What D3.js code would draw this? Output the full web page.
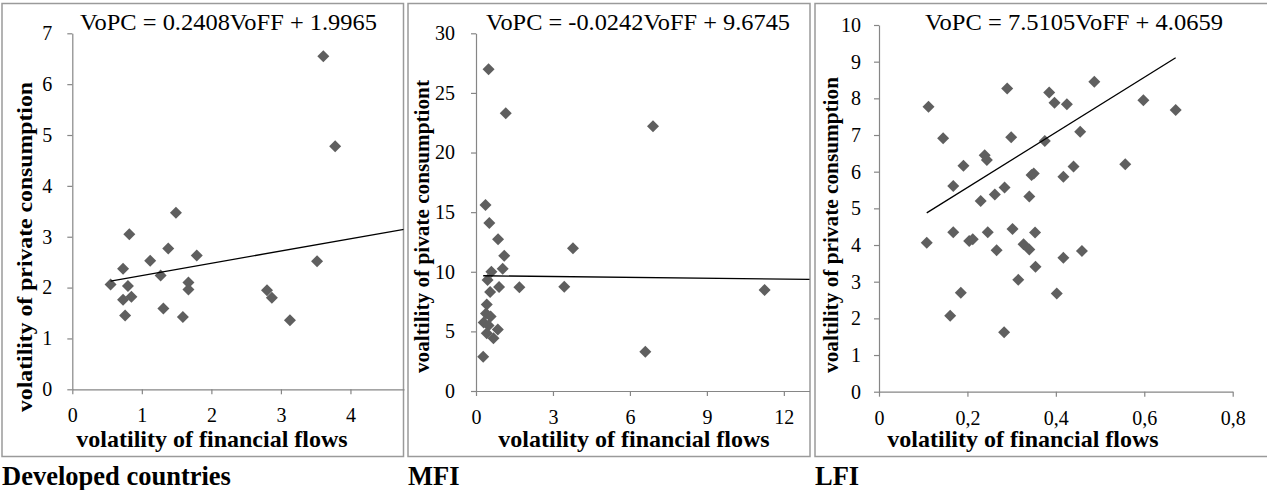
<!DOCTYPE html>
<html>
<head>
<meta charset="utf-8">
<script src="https://cdn.jsdelivr.net/npm/d3@7"></script>
</head>
<body style="margin:0">
<svg id="chart" width="1267" height="490"></svg>
<script>
// Volatility of financial flows (x) vs volatility of private consumption (y)

// Developed countries
const devX = [3.61, 3.78, 1.49, 0.82, 1.38, 1.79, 1.12, 3.52, 0.73, 1.27, 0.55, 0.80, 1.67, 1.67, 2.80, 2.87, 0.73, 0.85, 1.31, 0.76, 1.59, 3.13];
const devY = [6.55, 4.78, 3.47, 3.05, 2.77, 2.63, 2.53, 2.52, 2.37, 2.24, 2.06, 2.03, 2.10, 1.96, 1.95, 1.80, 1.76, 1.82, 1.59, 1.45, 1.42, 1.36];

// MFI
const mfiX = [0.49, 1.16, 6.90, 0.37, 0.52, 0.86, 3.78, 1.10, 1.04, 0.60, 0.45, 0.90, 1.69, 3.44, 11.25, 0.55, 0.42, 0.39, 0.57, 0.30, 0.49, 0.85, 0.42, 0.68, 6.60, 0.28];
const mfiY = [26.98, 23.3, 22.2, 15.6, 14.1, 12.72, 11.97, 11.35, 10.25, 10.0, 9.3, 8.72, 8.70, 8.75, 8.47, 8.3, 7.25, 6.5, 6.25, 5.75, 5.5, 5.15, 4.84, 4.42, 3.30, 2.88];

// LFI
const lfiX = [0.112, 0.145, 0.191, 0.168, 0.108, 0.168, 0.161, 0.185, 0.204, 0.212, 0.230, 0.239, 0.244, 0.246, 0.262, 0.266, 0.284, 0.290, 0.283, 0.299, 0.302, 0.315, 0.327, 0.340, 0.340, 0.345, 0.353, 0.354, 0.375, 0.385, 0.397, 0.402, 0.417, 0.417, 0.425, 0.440, 0.455, 0.459, 0.487, 0.557, 0.598, 0.671, 0.350];
const lfiY = [7.77, 6.91, 6.16, 5.61, 4.06, 4.35, 2.07, 2.70, 4.11, 4.16, 5.20, 6.45, 6.32, 4.35, 5.38, 3.86, 5.57, 8.27, 1.62, 6.94, 4.44, 3.05, 4.02, 3.88, 5.32, 5.91, 4.34, 3.41, 6.84, 8.16, 7.88, 2.68, 5.86, 3.65, 7.84, 6.14, 7.09, 3.84, 8.45, 6.20, 7.95, 7.68, 5.95];

// Linear trendlines: VoPC = slope * VoFF + intercept
const slopes = [0.2408, -0.0242, 7.5105];
const intercepts = [1.9965, 9.6745, 4.0659];
const equations = [
  "VoPC = 0.2408VoFF + 1.9965",
  "VoPC = -0.0242VoFF + 9.6745",
  "VoPC = 7.5105VoFF + 4.0659"
];

// Axis ticks and labels
const xTicks = [[0, 1, 2, 3, 4], [0, 3, 6, 9, 12], [0, 0.2, 0.4, 0.6, 0.8]];
const yTicks = [[0, 1, 2, 3, 4, 5, 6, 7], [0, 5, 10, 15, 20, 25, 30], [0, 1, 2, 3, 4, 5, 6, 7, 8, 9, 10]];
const xDomains = [[0, 4.77], [0, 13], [0, 0.8]];
const yDomains = [[0, 7], [0, 30], [0, 10]];
const xTitles = ["volatility of financial flows", "volatility of financial flows", "volatility of financial flows"];
const yTitles = ["volatility of private consumption", "voaltility of pivate consumptiont", "voaltility of private consumption"];
const groupNames = ["Developed countries", "MFI", "LFI"];

const seriesX = [devX, mfiX, lfiX];
const seriesY = [devY, mfiY, lfiY];

// Layout of the three panels
const layout = [
  { box: [2, 3.5, 401.5, 453], plotX: [72.3, 404], plotY: [389.3, 33.3], yPad: 15, trendToEnd: true,
    yTitleX: 32, yTitleY: 247, yTitleLen: 330, yTitleSize: 22, eqX: 228.5, eqLen: 297, xTitleX: 212, labelX: 2 },
  { box: [408, 3.5, 402, 453], plotX: [476, 809.5], plotY: [391, 33.3], yPad: 16, trendToEnd: true,
    yTitleX: 429, yTitleY: 226.5, yTitleLen: 293, yTitleSize: 20, eqX: 638, eqLen: 304, xTitleX: 634, labelX: 408 },
  { box: [815, 3.5, 470, 453], plotX: [879, 1232.7], plotY: [391.7, 25], yPad: 13, trendToEnd: false,
    yTitleX: 838, yTitleY: 225, yTitleLen: 296, yTitleSize: 20, eqX: 1074, eqLen: 298, xTitleX: 1023, labelX: 815 }
];

const FONT = "'Liberation Serif'";
const svg = d3.select("#chart");
const axisColor = "#868686";
const markerColor = "#5f5f5f";
const fmtComma = d => d3.format("")(d).replace(".", ",");

function styleText(sel, size, weight) {
  sel.attr("font-family", null).attr("font-size", null)
    .style("font-family", FONT).style("font-size", size + "px")
    .style("font-weight", weight || "normal").style("fill", "#000");
  return sel;
}

layout.forEach((L, i) => {
  const g = svg.append("g");

  // clip so the trendline stays inside the panel frame
  const clipId = "clip" + i;
  svg.append("clipPath").attr("id", clipId)
    .append("rect").attr("x", L.box[0]).attr("y", L.box[1]).attr("width", L.box[2]).attr("height", L.box[3]);

  // panel frame
  g.append("rect")
    .attr("x", L.box[0]).attr("y", L.box[1]).attr("width", L.box[2]).attr("height", L.box[3])
    .attr("fill", "none").attr("stroke", "#9a9a9a").attr("stroke-width", 1.5);

  const x = d3.scaleLinear().domain(xDomains[i]).range(L.plotX);
  const y = d3.scaleLinear().domain(yDomains[i]).range(L.plotY);

  // y axis
  const yAxis = d3.axisLeft(y).tickValues(yTicks[i]).tickSizeInner(5).tickSizeOuter(0).tickPadding(L.yPad)
    .tickFormat(d3.format("d"));
  const ya = g.append("g").attr("transform", `translate(${L.plotX[0]},0)`).call(yAxis)
    .attr("font-family", null).attr("font-size", null);
  ya.selectAll("path, line").attr("stroke", axisColor).attr("stroke-width", 1.2);
  styleText(ya.selectAll("text"), 20);

  // x axis
  const xAxis = d3.axisBottom(x).tickValues(xTicks[i]).tickSizeInner(5).tickSizeOuter(0).tickPadding(14)
    .tickFormat(i === 2 ? fmtComma : d3.format("d"));
  const xa = g.append("g").attr("transform", `translate(0,${L.plotY[0]})`).call(xAxis)
    .attr("font-family", null).attr("font-size", null);
  xa.selectAll("path, line").attr("stroke", axisColor).attr("stroke-width", 1.2);
  styleText(xa.selectAll("text"), 20);

  // data points as diamonds
  const pts = seriesX[i].map((v, k) => [v, seriesY[i][k]]);
  const r = 6;
  g.append("g").selectAll("path").data(pts).join("path")
    .attr("d", `M0,${-r}L${r},0L0,${r}L${-r},0Z`)
    .attr("transform", d => `translate(${x(d[0])},${y(d[1])})`)
    .attr("fill", markerColor);

  // linear trendline
  const x0 = d3.min(seriesX[i]);
  const x1 = L.trendToEnd ? xDomains[i][1] : d3.max(seriesX[i]);
  const f = v => slopes[i] * v + intercepts[i];
  g.append("line")
    .attr("clip-path", `url(#${clipId})`)
    .attr("x1", x(x0)).attr("y1", y(f(x0)))
    .attr("x2", x(x1)).attr("y2", y(f(x1)))
    .attr("stroke", "#000").attr("stroke-width", 1.3);

  // trendline equation
  styleText(g.append("text").attr("x", L.eqX).attr("y", 30).attr("text-anchor", "middle"), 23)
    .attr("textLength", L.eqLen).attr("lengthAdjust", "spacingAndGlyphs")
    .text(equations[i]);

  // axis titles
  styleText(g.append("text").attr("x", L.xTitleX).attr("y", 447).attr("text-anchor", "middle"), 24, "bold")
    .text(xTitles[i]);
  styleText(g.append("text")
    .attr("transform", `translate(${L.yTitleX},${L.yTitleY}) rotate(-90)`)
    .attr("text-anchor", "middle"), L.yTitleSize, "bold")
    .attr("textLength", L.yTitleLen).attr("lengthAdjust", "spacingAndGlyphs")
    .text(yTitles[i]);

  // group label below the panel
  styleText(g.append("text").attr("x", L.labelX).attr("y", 485), 26.5, "bold")
    .text(groupNames[i]);
});
</script>
</body>
</html>
